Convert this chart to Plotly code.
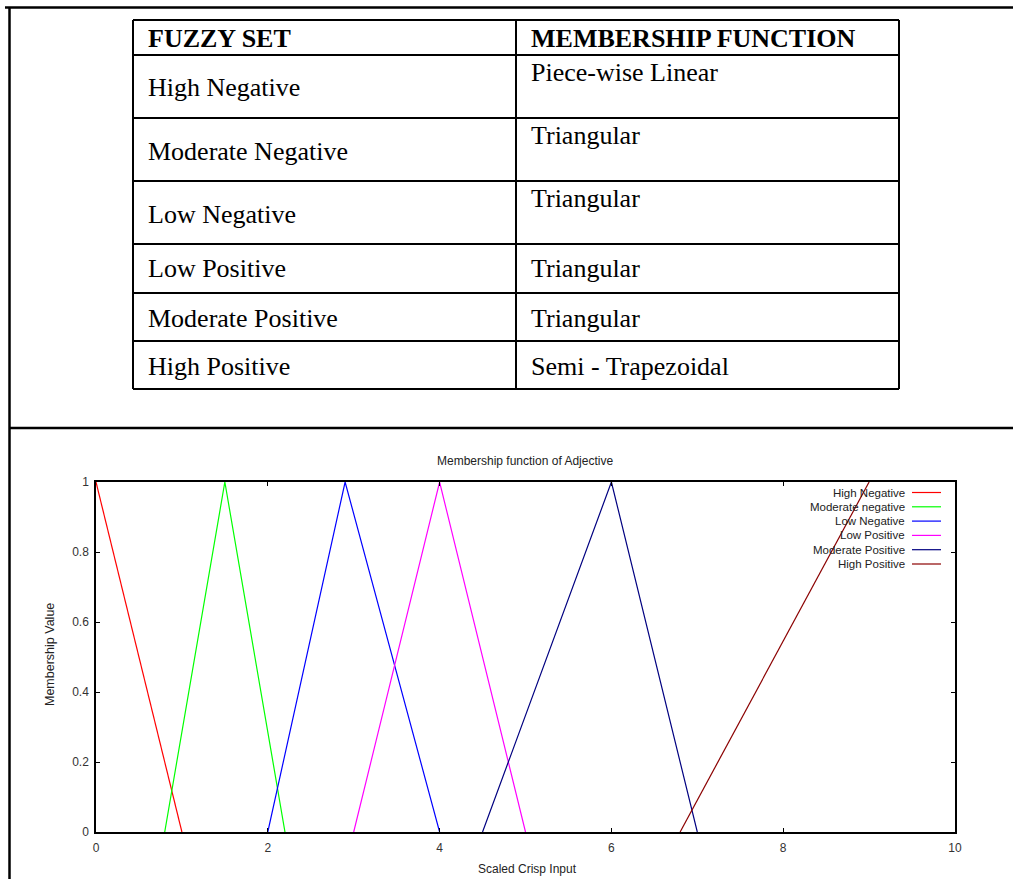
import plotly.graph_objects as go

W, H = 1013, 879

# ---------------- data ----------------
fuzzy_sets = ["High Negative", "Moderate Negative", "Low Negative",
              "Low Positive", "Moderate Positive", "High Positive"]
membership_types = ["Piece-wise Linear", "Triangular", "Triangular",
                    "Triangular", "Triangular", "Semi - Trapezoidal"]
table_headers = ["FUZZY SET", "MEMBERSHIP FUNCTION"]

series_names = ["High Negative", "Moderate negative", "Low Negative",
                "Low Positive", "Moderate Positive", "High Positive"]
series_x = [
    [0, 1],
    [0.8, 1.5, 2.2],
    [2, 2.9, 4],
    [3, 4, 5],
    [4.5, 6, 7],
    [6.8, 9],
]
series_y = [
    [1, 0],
    [0, 1, 0],
    [0, 1, 0],
    [0, 1, 0],
    [0, 1, 0],
    [0, 1],
]
series_colors = ["#ff0000", "#00ff00", "#0000ff", "#ff00ff", "#000080", "#8b0000"]

x_ticks = [0, 2, 4, 6, 8, 10]
y_ticks = [0, 0.2, 0.4, 0.6, 0.8, 1]

# ---------------- helpers (pixel -> paper) ----------------
def px(x):
    return x / W

def py(y):
    return 1 - y / H

fig = go.Figure()
for name, xs, ys, c in zip(series_names, series_x, series_y, series_colors):
    fig.add_trace(go.Scatter(x=xs, y=ys, mode="lines", name=name,
                             line=dict(color=c, width=1.2), showlegend=False))

shapes = []
annotations = []

# outer frame
frame = dict(type="line", xref="paper", yref="paper", line=dict(color="black", width=2.5))
shapes.append(dict(frame, x0=px(5), x1=px(1013), y0=py(7.5), y1=py(7.5)))
shapes.append(dict(frame, x0=px(9.5), x1=px(9.5), y0=py(7), y1=py(879)))
shapes.append(dict(frame, x0=px(9), x1=px(1013), y0=py(428), y1=py(428)))

# table grid
tl = dict(type="line", xref="paper", yref="paper", line=dict(color="black", width=2))
row_edges = [20, 55, 118, 181, 244, 293, 341, 389]
tx0, tx1, tmid = 133, 899, 516
for yy in row_edges:
    shapes.append(dict(tl, x0=px(tx0), x1=px(tx1), y0=py(yy), y1=py(yy)))
for xx in [tx0, tmid, tx1]:
    shapes.append(dict(tl, x0=px(xx), x1=px(xx), y0=py(row_edges[0]), y1=py(row_edges[-1])))

serif = "Liberation Serif, Times New Roman, serif"
FS = 26
col_x = [146, 529]
for i, htxt in enumerate(table_headers):
    annotations.append(dict(x=px(col_x[i]), y=py(38), xref="paper", yref="paper",
                            text="<b>" + htxt + "</b>", showarrow=False,
                            xanchor="left", yanchor="middle",
                            font=dict(family=serif, size=FS, color="black")))
left_y = [88, 151, 214, 269, 318, 366]
right_y = [72, 135, 198, 269, 318, 366]
for fs, mt, ly, ry in zip(fuzzy_sets, membership_types, left_y, right_y):
    annotations.append(dict(x=px(col_x[0]), y=py(ly), xref="paper", yref="paper", text=fs,
                            showarrow=False, xanchor="left", yanchor="middle",
                            font=dict(family=serif, size=FS, color="black")))
    annotations.append(dict(x=px(col_x[1]), y=py(ry), xref="paper", yref="paper", text=mt,
                            showarrow=False, xanchor="left", yanchor="middle",
                            font=dict(family=serif, size=FS, color="black")))

# chart title and axis labels
sans = "Liberation Sans, Arial, sans-serif"
annotations.append(dict(x=px(525), y=py(461), xref="paper", yref="paper",
                        text="Membership function of Adjective", showarrow=False,
                        xanchor="center", yanchor="middle",
                        font=dict(family=sans, size=12, color="#222")))
annotations.append(dict(x=px(527), y=py(869), xref="paper", yref="paper",
                        text="Scaled Crisp Input", showarrow=False,
                        xanchor="center", yanchor="middle",
                        font=dict(family=sans, size=12, color="#222")))
annotations.append(dict(x=px(50), y=py(655), xref="paper", yref="paper",
                        text="Membership Value", showarrow=False, textangle=-90,
                        xanchor="center", yanchor="middle",
                        font=dict(family=sans, size=12.5, color="#222")))

# legend (text right aligned, sample on the right, like gnuplot)
leg_y0, leg_dy = 492.5, 14.3
for i, (name, c) in enumerate(zip(series_names, series_colors)):
    yy = leg_y0 + i * leg_dy
    annotations.append(dict(x=px(907), y=py(yy), xref="paper", yref="paper", text=name,
                            showarrow=False, xanchor="right", yanchor="middle",
                            font=dict(family=sans, size=11.5, color="#222")))
    shapes.append(dict(type="line", xref="paper", yref="paper",
                       x0=px(912), x1=px(941), y0=py(yy), y1=py(yy),
                       line=dict(color=c, width=1.2)))

axis_common = dict(showline=True, linecolor="black", linewidth=1.5, mirror="ticks",
                   ticks="inside", ticklen=4, tickcolor="black", showgrid=False,
                   zeroline=False, automargin=False,
                   tickfont=dict(family=sans, size=12, color="#333"))

fig.update_layout(
    width=W, height=H,
    margin=dict(l=0, r=0, t=0, b=0, pad=0, autoexpand=False),
    showlegend=False,
    paper_bgcolor="white", plot_bgcolor="white",
    shapes=shapes, annotations=annotations,
    xaxis=dict(axis_common, domain=[px(96), px(955)], range=[0, 10],
               tickvals=x_ticks, ticktext=[str(v) for v in x_ticks],
               ticklabelstandoff=4),
    yaxis=dict(axis_common, domain=[py(832), py(482)], range=[0, 1],
               tickvals=y_ticks, ticktext=[f"{v:g}" for v in y_ticks],
               ticklabelstandoff=3),
)

fig.write_html(
    "out.html",
    config={"displayModeBar": False},
    post_script=(
        "var de=document.documentElement, b=document.body;"
        "de.style.margin='0';de.style.padding='0';de.style.overflow='hidden';"
        "b.style.margin='0';b.style.padding='0';b.style.overflow='hidden';"
        "b.style.lineHeight='0';b.style.fontSize='0';"
        "var gd=document.getElementById('{plot_id}');"
        "gd.style.display='block';"
        "if(gd.parentElement){gd.parentElement.style.height='879px';gd.parentElement.style.overflow='hidden';}"
    ),
)
